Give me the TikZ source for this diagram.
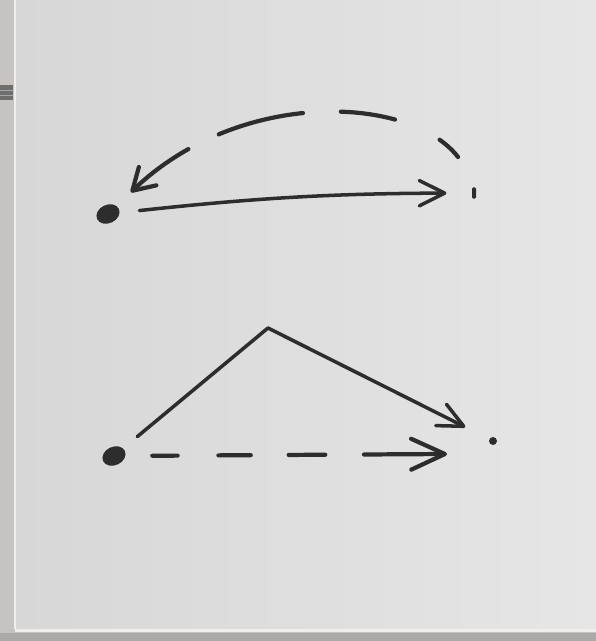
\documentclass[tikz,border=0pt]{standalone}
\usepackage{xcolor}
\usetikzlibrary{arrows.meta,shapes.geometric}
\definecolor{boardleft}{RGB}{215,215,215}
\definecolor{boardright}{RGB}{230,230,230}
\definecolor{framecol}{RGB}{198,195,192}
\definecolor{framedark}{RGB}{172,170,168}
\definecolor{edgecol}{RGB}{238,238,238}
\definecolor{clipcol}{RGB}{110,110,110}
\definecolor{inkcol}{RGB}{45,45,45}

\begin{document}
\begin{tikzpicture}[x=0.025cm, y=0.025cm,
  ink/.style={draw=inkcol, line width=2.5pt, line cap=round, line join=round},
  thick ink/.style={ink, line width=3pt},
  blob/.style={ellipse, fill=inkcol, inner sep=0pt, minimum width=0.6cm, minimum height=0.46cm, rotate=25},
  dot/.style={circle, fill=inkcol, inner sep=0pt, minimum size=0.2cm},
  tick/.style={rectangle, fill=inkcol, inner sep=0pt, minimum width=0.1cm, minimum height=0.28cm, rounded corners=0.8pt},
]
\useasboundingbox (0,0) rectangle (596,641);
\fill[framecol] (0,0) rectangle (596,641);
\shade[left color=boardleft, right color=boardright] (15,12) rectangle (596,641);
\draw[edgecol, line width=1pt] (15,12) -- (15,641);
\fill[edgecol] (15,9) rectangle (596,12);
\fill[framedark] (0,0) rectangle (596,8);
\fill[clipcol] (0,541) rectangle (13,556);
\draw[gray!70, line width=0.6pt] (0,546) -- (13,546) (0,551) -- (13,551);

\node[blob] (a) at (108,427) {};
\node[tick] (b) at (474,448) {};
\node[blob] (c) at (114,185) {};
\node[dot]  (d) at (493,200) {};
\coordinate (back) at (458,484);
\coordinate (peak) at (268,313);
\coordinate (dend) at (447,187);

\draw[ink, -{Straight Barb[round, length=18pt, width=18pt]}, shorten <=14pt, shorten >=18pt]
  (a) to[bend left=3] (b);
\draw[thick ink, dash pattern=on 18pt off 35pt on 39pt off 27pt on 62pt off 24pt on 80pt,
  -{Straight Barb[round, length=15pt, width=18pt]}, shorten >=14pt]
  (back) .. controls (410,546) and (240,553) .. (a);
\draw[ink, -{Straight Barb[round, length=18pt, width=17pt]}, shorten <=13pt, shorten >=19pt]
  (c) -- (peak) -- (d);
\draw[thick ink, dash pattern=on 18pt off 29pt on 23pt off 27pt on 26pt off 27.5pt on 80pt,
  -{Straight Barb[round, length=24pt, width=22pt]}, shorten <=19pt]
  (c) -- (dend);
\end{tikzpicture}
\end{document}
